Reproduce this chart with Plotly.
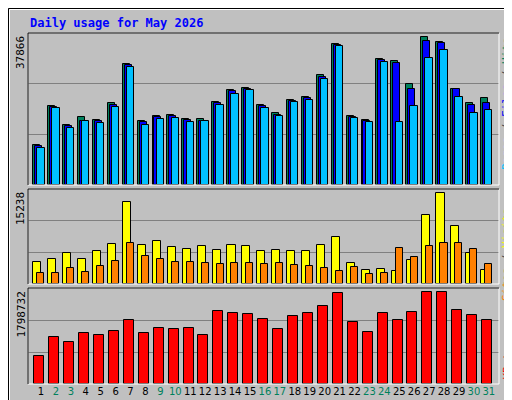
import plotly.graph_objects as go

days = list(range(1, 32))
hits = [10067, 19800, 15060, 16890, 16310, 20550, 30040, 16060, 17310, 17560, 16560, 16560, 20800, 23550, 24290,
        20050, 18050, 21300, 21800, 27290, 35030, 17310, 16310, 31280, 30780, 25040, 36770, 35530, 24040, 20550, 21550]
files = [9818, 19550, 14730, 16060, 16060, 20050, 29790, 15810, 17060, 17310, 16310, 16060, 20550, 23300, 24040,
         19800, 17560, 21050, 21550, 26790, 34780, 17060, 16060, 31030, 30290, 24040, 35780, 35280, 23800, 20050, 20550]
pages = [9318, 19300, 14310, 16060, 15560, 19550, 29290, 15060, 16560, 16810, 15810, 16060, 20050, 22550, 23550,
         19300, 17310, 20800, 21300, 26290, 34530, 16810, 15810, 30530, 15810, 19800, 31530, 33530, 21800, 18050, 18800]
visits = [3505, 3980, 4940, 3980, 5260, 6370, 13220, 6210, 6850, 5890, 5580, 6050, 5420, 6210, 6050,
          5260, 5420, 5260, 5260, 6210, 7490, 3345, 2230, 2390, 2070, 3820, 10990, 14660, 9240, 4940, 2230]
sites = [1752, 1752, 2550, 1910, 2870, 3660, 6530, 4460, 3980, 3505, 3505, 3345, 3190, 3345, 3345,
         3190, 3345, 3030, 2870, 2550, 2070, 2710, 1590, 1752, 5730, 4300, 6050, 6530, 6530, 5580, 3190]
kbytes = [515700, 874200, 779800, 949600, 911900, 987400, 1194900, 949600, 1044000, 1025100, 1044000, 911900,
          1364700, 1327000, 1308100, 1213800, 1025100, 1270400, 1327000, 1459000, 1704300, 1157200, 968500,
          1327000, 1194900, 1345800, 1723200, 1723200, 1383600, 1289200, 1194900]
weekend = [2, 3, 9, 10, 16, 17, 23, 24, 30, 31]
max_hits, max_visits, max_kb = 37866, 15238, 1798732

W, H = 512, 400
L, R, T, B = 20, 21, 25, 24
pw, ph = W - L - R, H - T - B


def px(x):
    return (x - L) / pw


def py(y):
    return (H - B - y) / ph


fig = go.Figure()
line = dict(color="black", width=1)


def bars(vals, color, off, width, yaxis):
    fig.add_trace(go.Bar(x=days, y=vals, marker=dict(color=color, line=line), offset=off, width=width,
                         yaxis=yaxis, showlegend=False, hoverinfo="skip"))


bars(hits, "#00805C", -0.53, 0.47, "y")
bars(files, "#0000FF", -0.40, 0.47, "y")
bars(pages, "#00C0FF", -0.25, 0.49, "y")
bars(visits, "#FFFF00", -0.51, 0.54, "y2")
bars(sites, "#FF8000", -0.24, 0.47, "y2")
bars(kbytes, "#FF0000", -0.45, 0.67, "y3")

ticktext = [f"<span style='color:#00805C'>{d}</span>" if d in weekend else str(d) for d in days]

panels = [(25, 177), (181, 276), (280, 376)]
yax = dict(showticklabels=False, ticks="", showgrid=True, gridcolor="#808080", gridwidth=1,
           zeroline=False, fixedrange=True)
fig.update_layout(
    width=W, height=H, margin=dict(l=L, r=R, t=T, b=B),
    paper_bgcolor="#C0C0C0", plot_bgcolor="#C0C0C0", barmode="overlay", bargap=0,
    font=dict(family="DejaVu Sans Mono", size=11, color="black"),
    xaxis=dict(range=[0.13, 31.68], tickvals=days, ticktext=ticktext, ticks="", showgrid=False,
               tickangle=0, tickfont=dict(family="DejaVu Sans", size=10), anchor="y3"),
    yaxis=dict(yax, range=[0, max_hits], dtick=max_hits / 3, domain=[py(177), py(25)]),
    yaxis2=dict(yax, range=[0, max_visits], dtick=max_visits / 3, domain=[py(276), py(181)]),
    yaxis3=dict(yax, range=[0, max_kb], dtick=max_kb / 3, domain=[py(376), py(280)]),
)

shapes = [
    dict(type="rect", xref="paper", yref="paper", x0=px(0.5), x1=px(511.5), y0=py(399.5), y1=py(0.5),
         line=dict(color="black", width=1)),
    dict(type="rect", xref="paper", yref="paper", x0=px(1.5), x1=px(510.5), y0=py(398.5), y1=py(1.5),
         line=dict(color="white", width=1)),
]
for top, bot in panels:
    shapes.append(dict(type="rect", xref="paper", yref="paper", x0=px(20), x1=px(491), y0=py(bot), y1=py(top),
                       line=dict(color="white", width=1)))
    shapes.append(dict(type="path", xref="paper", yref="paper",
                       path=f"M {px(20)} {py(bot)} L {px(20)} {py(top)} L {px(491)} {py(top)}",
                       line=dict(color="black", width=1)))
fig.update_layout(shapes=shapes)

ann = [
    dict(text="<b>Daily usage for May 2026</b>", x=px(20), y=py(15), xanchor="left", yanchor="middle",
         font=dict(color="#0000FF", size=12, family="DejaVu Sans Mono")),
    dict(text=str(max_hits), x=px(21), y=py(26), xanchor="right", yanchor="top", textangle=-90),
    dict(text=str(max_visits), x=px(21), y=py(182), xanchor="right", yanchor="top", textangle=-90),
    dict(text=str(max_kb), x=px(21), y=py(281), xanchor="right", yanchor="top", textangle=-90),
    dict(text="<span style='color:#00C0FF'>Pages</span> / <span style='color:#0000FF'>Files</span>"
              " / <span style='color:#00805C'>Hits</span>",
         x=px(507), y=py(27), xanchor="right", yanchor="top", textangle=-90, font=dict(color="#404040", size=11)),
    dict(text="<span style='color:#FF8000'>Sites</span> / <span style='color:#FFFF00'>Visits</span>",
         x=px(507), y=py(198), xanchor="right", yanchor="top", textangle=-90, font=dict(color="#404040", size=11)),
    dict(text="<span style='color:#FF0000'>KBytes</span>",
         x=px(507), y=py(330), xanchor="right", yanchor="top", textangle=-90, font=dict(size=11)),
]
for a in ann:
    a.update(xref="paper", yref="paper", showarrow=False)
fig.update_layout(annotations=ann)

fig.write_html("out.html")
